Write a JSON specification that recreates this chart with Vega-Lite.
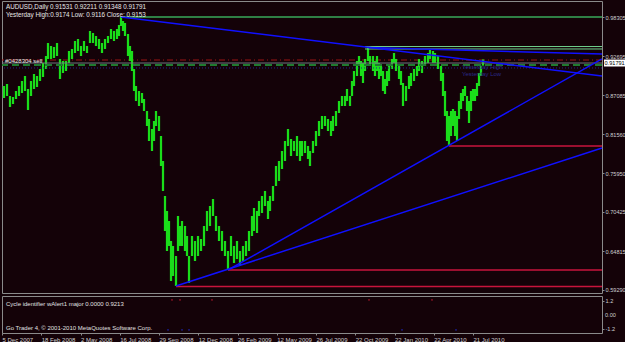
{
  "$schema": "https://vega.github.io/schema/vega-lite/v6.json",
  "background": "#140208",
  "padding": 0,
  "spacing": 1,
  "config": {
    "view": {"stroke": "#8a8a8a", "strokeWidth": 1},
    "axis": {"labelFont": "Liberation Sans", "labelFontSize": 5.6, "labelColor": "#d0d0d0", "tickColor": "#8a8a8a", "domainColor": "#8a8a8a", "grid": false, "title": null, "tickSize": 2, "labelPadding": 1, "labelOverlap": false, "labelBound": false, "labelFlush": false},
    "text": {"font": "Liberation Sans"}
  },
  "datasets": {
    "price": [
      {"b":2,"hi":0.8843,"lo":0.8671},{"b":5,"hi":0.8872,"lo":0.8700},{"b":8,"hi":0.8700,"lo":0.8543},{"b":11,"hi":0.8686,"lo":0.8585},{"b":14,"hi":0.8772,"lo":0.8657},{"b":17,"hi":0.8843,"lo":0.8700},{"b":20,"hi":0.8915,"lo":0.8743},{"b":23,"hi":0.8986,"lo":0.8772},{"b":26,"hi":0.8800,"lo":0.8500},{"b":29,"hi":0.8915,"lo":0.8700},{"b":32,"hi":0.9015,"lo":0.8800},{"b":35,"hi":0.8986,"lo":0.8829},{"b":38,"hi":0.9086,"lo":0.8915},{"b":41,"hi":0.9172,"lo":0.8972},{"b":44,"hi":0.9272,"lo":0.9086},{"b":46,"hi":0.9458,"lo":0.9230},{"b":49,"hi":0.9416,"lo":0.9230},{"b":52,"hi":0.9401,"lo":0.9244},{"b":55,"hi":0.9458,"lo":0.9272},{"b":58,"hi":0.9230,"lo":0.8943},{"b":61,"hi":0.9201,"lo":0.9029},{"b":64,"hi":0.9201,"lo":0.9058},{"b":67,"hi":0.9344,"lo":0.9172},{"b":70,"hi":0.9373,"lo":0.9230},{"b":73,"hi":0.9487,"lo":0.9315},{"b":76,"hi":0.9516,"lo":0.9344},{"b":79,"hi":0.9416,"lo":0.9272},{"b":82,"hi":0.9487,"lo":0.9344},{"b":85,"hi":0.9416,"lo":0.9315},{"b":88,"hi":0.9630,"lo":0.9458},{"b":91,"hi":0.9602,"lo":0.9458},{"b":94,"hi":0.9559,"lo":0.9416},{"b":97,"hi":0.9516,"lo":0.9373},{"b":100,"hi":0.9458,"lo":0.9315},{"b":103,"hi":0.9516,"lo":0.9373},{"b":106,"hi":0.9559,"lo":0.9458},{"b":109,"hi":0.9659,"lo":0.9516},{"b":112,"hi":0.9630,"lo":0.9487},{"b":115,"hi":0.9659,"lo":0.9516},{"b":117,"hi":0.9716,"lo":0.9559},{"b":119,"hi":0.9831,"lo":0.9702},{"b":121,"hi":0.9773,"lo":0.9630},{"b":123,"hi":0.9745,"lo":0.9559},{"b":126,"hi":0.9587,"lo":0.9272},{"b":128,"hi":0.9416,"lo":0.9201},{"b":130,"hi":0.9344,"lo":0.9058},{"b":132,"hi":0.9086,"lo":0.8772},{"b":134,"hi":0.8843,"lo":0.8628},{"b":137,"hi":0.8772,"lo":0.8557},{"b":140,"hi":0.8743,"lo":0.8600},{"b":142,"hi":0.8657,"lo":0.8485},{"b":145,"hi":0.8485,"lo":0.8271},{"b":147,"hi":0.8371,"lo":0.8056},{"b":150,"hi":0.8228,"lo":0.7913},{"b":152,"hi":0.8342,"lo":0.8056},{"b":154,"hi":0.8485,"lo":0.8271},{"b":157,"hi":0.8414,"lo":0.8199},{"b":159,"hi":0.8128,"lo":0.7698},{"b":161,"hi":0.7770,"lo":0.7341},{"b":163,"hi":0.7269,"lo":0.6768},{"b":165,"hi":0.7055,"lo":0.6482},{"b":167,"hi":0.6911,"lo":0.6554},{"b":169,"hi":0.6625,"lo":0.6053},{"b":171,"hi":0.6554,"lo":0.6124},{"b":174,"hi":0.6410,"lo":0.5981},{"b":176,"hi":0.6983,"lo":0.6482},{"b":178,"hi":0.6840,"lo":0.6554},{"b":180,"hi":0.6911,"lo":0.6554},{"b":183,"hi":0.6840,"lo":0.6482},{"b":185,"hi":0.6697,"lo":0.6410},{"b":187,"hi":0.6410,"lo":0.6024},{"b":190,"hi":0.6697,"lo":0.6410},{"b":193,"hi":0.6625,"lo":0.6339},{"b":196,"hi":0.6697,"lo":0.6410},{"b":199,"hi":0.6654,"lo":0.6482},{"b":202,"hi":0.6840,"lo":0.6554},{"b":205,"hi":0.7055,"lo":0.6768},{"b":208,"hi":0.7126,"lo":0.6840},{"b":211,"hi":0.7226,"lo":0.6983},{"b":214,"hi":0.6983,"lo":0.6768},{"b":217,"hi":0.6840,"lo":0.6625},{"b":220,"hi":0.6768,"lo":0.6482},{"b":223,"hi":0.6625,"lo":0.6410},{"b":226,"hi":0.6482,"lo":0.6224},{"b":229,"hi":0.6697,"lo":0.6410},{"b":232,"hi":0.6554,"lo":0.6310},{"b":235,"hi":0.6625,"lo":0.6367},{"b":238,"hi":0.6482,"lo":0.6267},{"b":241,"hi":0.6554,"lo":0.6339},{"b":244,"hi":0.6625,"lo":0.6410},{"b":247,"hi":0.6768,"lo":0.6482},{"b":250,"hi":0.6983,"lo":0.6697},{"b":252,"hi":0.7097,"lo":0.6768},{"b":255,"hi":0.7055,"lo":0.6740},{"b":257,"hi":0.7198,"lo":0.6983},{"b":260,"hi":0.7269,"lo":0.7026},{"b":263,"hi":0.7341,"lo":0.7126},{"b":266,"hi":0.7198,"lo":0.6940},{"b":268,"hi":0.7269,"lo":0.7055},{"b":271,"hi":0.7412,"lo":0.7198},{"b":274,"hi":0.7698,"lo":0.7412},{"b":277,"hi":0.7770,"lo":0.7484},{"b":280,"hi":0.7913,"lo":0.7655},{"b":283,"hi":0.8056,"lo":0.7770},{"b":286,"hi":0.8228,"lo":0.7985},{"b":289,"hi":0.8085,"lo":0.7841},{"b":292,"hi":0.8056,"lo":0.7913},{"b":295,"hi":0.8128,"lo":0.7841},{"b":298,"hi":0.8056,"lo":0.7770},{"b":300,"hi":0.8056,"lo":0.7841},{"b":303,"hi":0.8056,"lo":0.7884},{"b":306,"hi":0.7985,"lo":0.7799},{"b":308,"hi":0.7913,"lo":0.7698},{"b":311,"hi":0.8056,"lo":0.7884},{"b":314,"hi":0.8199,"lo":0.7985},{"b":317,"hi":0.8342,"lo":0.8128},{"b":320,"hi":0.8414,"lo":0.8228},{"b":323,"hi":0.8414,"lo":0.8271},{"b":326,"hi":0.8371,"lo":0.8199},{"b":329,"hi":0.8342,"lo":0.8128},{"b":331,"hi":0.8414,"lo":0.8199},{"b":334,"hi":0.8485,"lo":0.8271},{"b":337,"hi":0.8628,"lo":0.8457},{"b":340,"hi":0.8700,"lo":0.8557},{"b":343,"hi":0.8700,"lo":0.8557},{"b":345,"hi":0.8800,"lo":0.8628},{"b":348,"hi":0.8700,"lo":0.8557},{"b":350,"hi":0.8915,"lo":0.8700},{"b":352,"hi":0.9058,"lo":0.8843},{"b":355,"hi":0.9201,"lo":0.8986},{"b":357,"hi":0.9272,"lo":0.9129},{"b":359,"hi":0.9201,"lo":0.8986},{"b":361,"hi":0.9172,"lo":0.8886},{"b":363,"hi":0.9230,"lo":0.9058},{"b":366,"hi":0.9387,"lo":0.9201},{"b":368,"hi":0.9272,"lo":0.9129},{"b":371,"hi":0.9272,"lo":0.9058},{"b":373,"hi":0.9201,"lo":0.8986},{"b":375,"hi":0.9272,"lo":0.9058},{"b":377,"hi":0.9172,"lo":0.8943},{"b":379,"hi":0.9129,"lo":0.8986},{"b":381,"hi":0.9058,"lo":0.8772},{"b":383,"hi":0.8943,"lo":0.8729},{"b":385,"hi":0.9058,"lo":0.8843},{"b":387,"hi":0.9129,"lo":0.8915},{"b":390,"hi":0.9230,"lo":0.9086},{"b":392,"hi":0.9315,"lo":0.9172},{"b":394,"hi":0.9230,"lo":0.9058},{"b":397,"hi":0.9129,"lo":0.8943},{"b":399,"hi":0.9058,"lo":0.8857},{"b":401,"hi":0.8886,"lo":0.8557},{"b":404,"hi":0.8843,"lo":0.8628},{"b":407,"hi":0.8986,"lo":0.8800},{"b":409,"hi":0.9029,"lo":0.8843},{"b":412,"hi":0.9086,"lo":0.8915},{"b":415,"hi":0.9129,"lo":0.8986},{"b":417,"hi":0.9230,"lo":0.9058},{"b":420,"hi":0.9201,"lo":0.9029},{"b":423,"hi":0.9272,"lo":0.9129},{"b":426,"hi":0.9315,"lo":0.9172},{"b":428,"hi":0.9373,"lo":0.9230},{"b":431,"hi":0.9344,"lo":0.9172},{"b":433,"hi":0.9315,"lo":0.9172},{"b":436,"hi":0.9272,"lo":0.9086},{"b":439,"hi":0.9129,"lo":0.8915},{"b":441,"hi":0.9029,"lo":0.8700},{"b":443,"hi":0.8772,"lo":0.8414},{"b":445,"hi":0.8485,"lo":0.8056},{"b":447,"hi":0.8414,"lo":0.7985},{"b":449,"hi":0.8485,"lo":0.8128},{"b":451,"hi":0.8514,"lo":0.8271},{"b":453,"hi":0.8485,"lo":0.8128},{"b":455,"hi":0.8414,"lo":0.8056},{"b":457,"hi":0.8628,"lo":0.8371},{"b":459,"hi":0.8743,"lo":0.8514},{"b":461,"hi":0.8800,"lo":0.8628},{"b":463,"hi":0.8843,"lo":0.8700},{"b":465,"hi":0.8700,"lo":0.8485},{"b":467,"hi":0.8628,"lo":0.8314},{"b":469,"hi":0.8772,"lo":0.8485},{"b":471,"hi":0.8800,"lo":0.8628},{"b":473,"hi":0.8800,"lo":0.8628},{"b":475,"hi":0.8886,"lo":0.8700},{"b":477,"hi":0.9029,"lo":0.8843},{"b":479,"hi":0.9129,"lo":0.8986},{"b":481,"hi":0.9221,"lo":0.9135}
    ]
  },
  "vconcat": [
    {
      "width": 600,
      "height": 292,
      "layer": [
        {
          "data": {"values": [{"v": 0.9215}]},
          "mark": {"type": "rule", "color": "#9a1414", "strokeWidth": 1, "strokeDash": [6, 3, 1, 3]},
          "encoding": {
            "y": {"field": "v", "type": "quantitative", "scale": {"domain": [0.58809, 1.00595], "nice": false, "zero": false},
              "axis": {"orient": "right", "values": [0.98305, 0.955, 0.92695, 0.8989, 0.87085, 0.84365, 0.8156, 0.78755, 0.7595, 0.73145, 0.70425, 0.6762, 0.64815, 0.6201, 0.5929], "format": ".5f", "domain": false}}
          }
        },
        {
          "data": {"name": "price"},
          "mark": {"type": "rule", "color": "#0b8f0b", "strokeWidth": 2.4},
          "encoding": {
            "x": {"field": "b", "type": "quantitative", "scale": {"domain": [0, 600], "nice": false, "zero": false}, "axis": null},
            "y": {"field": "lo", "type": "quantitative"},
            "y2": {"field": "hi"}
          }
        },
        {
          "data": {"name": "price"},
          "mark": {"type": "rule", "color": "#22ff22", "strokeWidth": 1.4},
          "encoding": {
            "x": {"field": "b", "type": "quantitative"},
            "y": {"field": "lo", "type": "quantitative"},
            "y2": {"field": "hi"}
          }
        },
        {
          "data": {"values": [{"v": 0.9172}]},
          "mark": {"type": "rule", "color": "#6f7880", "strokeWidth": 1},
          "encoding": {"y": {"field": "v", "type": "quantitative"}}
        },
        {
          "data": {"values": [{"v": 0.9144}]},
          "mark": {"type": "rule", "color": "#1f7a30", "strokeWidth": 2, "strokeDash": [7, 4]},
          "encoding": {"y": {"field": "v", "type": "quantitative"}}
        },
        {
          "data": {"values": [{"v": 0.9101}]},
          "mark": {"type": "rule", "color": "#22228a", "strokeWidth": 1, "strokeDash": [1, 2]},
          "encoding": {"y": {"field": "v", "type": "quantitative"}}
        },
        {
          "data": {"values": [{"x1": 119, "x2": 600, "v": 0.9831}]},
          "mark": {"type": "rule", "color": "#2f7f45", "strokeWidth": 2},
          "encoding": {"x": {"field": "x1", "type": "quantitative"}, "x2": {"field": "x2"}, "y": {"field": "v", "type": "quantitative"}}
        },
        {
          "data": {"values": [{"x1": 363, "x2": 600, "v": 0.9408}, {"x1": 363, "x2": 600, "v": 0.9373}]},
          "mark": {"type": "rule", "color": "#6fd08c", "strokeWidth": 1},
          "encoding": {"x": {"field": "x1", "type": "quantitative"}, "x2": {"field": "x2"}, "y": {"field": "v", "type": "quantitative"}}
        },
        {
          "data": {"values": [{"x1": 447, "x2": 600, "v": 0.7985}, {"x1": 226, "x2": 600, "v": 0.621}, {"x1": 174, "x2": 600, "v": 0.5974}]},
          "mark": {"type": "rule", "color": "#c8143c", "strokeWidth": 1.5},
          "encoding": {"x": {"field": "x1", "type": "quantitative"}, "x2": {"field": "x2"}, "y": {"field": "v", "type": "quantitative"}}
        },
        {
          "data": {"values": [
            {"x1": 119, "v1": 0.9831, "x2": 600, "v2": 0.8986},
            {"x1": 366, "v1": 0.9394, "x2": 600, "v2": 0.9301},
            {"x1": 174, "v1": 0.5981, "x2": 600, "v2": 0.7956},
            {"x1": 226, "v1": 0.621, "x2": 600, "v2": 0.923}
          ]},
          "mark": {"type": "rule", "color": "#1010ff", "strokeWidth": 1.5},
          "encoding": {"x": {"field": "x1", "type": "quantitative"}, "x2": {"field": "x2"}, "y": {"field": "v1", "type": "quantitative"}, "y2": {"field": "v2"}}
        },
        {
          "data": {"values": [{}]},
          "mark": {"type": "text", "align": "left", "baseline": "top", "color": "#e8e8e8", "fontSize": 6.3},
          "encoding": {"x": {"datum": 4, "type": "quantitative"}, "y": {"datum": 1.0017, "type": "quantitative"}, "text": {"value": "AUDUSD,Daily  0.91531 0.92211 0.91348 0.91791"}}
        },
        {
          "data": {"values": [{}]},
          "mark": {"type": "text", "align": "left", "baseline": "top", "color": "#e8e8e8", "fontSize": 6.3},
          "encoding": {"x": {"datum": 4, "type": "quantitative"}, "y": {"datum": 0.9903, "type": "quantitative"}, "text": {"value": "Yesterday High:0.9174   Low: 0.9116   Close: 0.9153"}}
        },
        {
          "data": {"values": [{}]},
          "mark": {"type": "text", "align": "left", "baseline": "middle", "color": "#e8e8e8", "fontSize": 6},
          "encoding": {"x": {"datum": 3, "type": "quantitative"}, "y": {"datum": 0.9194, "type": "quantitative"}, "text": {"value": "#0428304 sell"}}
        },
        {
          "data": {"values": [{}]},
          "mark": {"type": "text", "align": "left", "baseline": "middle", "color": "#2a2a88", "fontSize": 6},
          "encoding": {"x": {"datum": 460, "type": "quantitative"}, "y": {"datum": 0.9115, "type": "quantitative"}, "text": {"value": "Yesterday High"}}
        },
        {
          "data": {"values": [{}]},
          "mark": {"type": "text", "align": "left", "baseline": "middle", "color": "#2a2a88", "fontSize": 6},
          "encoding": {"x": {"datum": 460, "type": "quantitative"}, "y": {"datum": 0.9022, "type": "quantitative"}, "text": {"value": "Yesterday Low"}}
        },
        {
          "data": {"values": [{}]},
          "mark": {"type": "rect", "color": "#ffffff"},
          "encoding": {"x": {"datum": 602, "type": "quantitative"}, "x2": {"datum": 624}, "y": {"datum": 0.9222, "type": "quantitative"}, "y2": {"datum": 0.9122}}
        },
        {
          "data": {"values": [{}]},
          "mark": {"type": "text", "align": "left", "baseline": "middle", "color": "#000000", "fontSize": 5.6},
          "encoding": {"x": {"datum": 602.5, "type": "quantitative"}, "y": {"datum": 0.9172, "type": "quantitative"}, "text": {"value": "0.91791"}}
        }
      ]
    },
    {
      "width": 600,
      "height": 37,
      "layer": [
        {
          "data": {"values": [
            {"b": 170, "s": 1.28, "k": "up"}, {"b": 178, "s": 1.28, "k": "up"}, {"b": 210, "s": 1.28, "k": "up"}, {"b": 367, "s": 1.28, "k": "up"}, {"b": 430, "s": 1.28, "k": "up"},
            {"b": 166, "s": -1.28, "k": "down"}, {"b": 180, "s": -1.28, "k": "down"}, {"b": 187, "s": -1.28, "k": "down"}, {"b": 400, "s": -1.28, "k": "down"}, {"b": 454, "s": -1.28, "k": "down"}
          ]},
          "mark": {"type": "square", "size": 3, "opacity": 1},
          "encoding": {
            "x": {"field": "b", "type": "quantitative", "scale": {"domain": [0, 600], "nice": false, "zero": false},
              "axis": {"orient": "bottom", "values": [0, 39.25, 78.5, 117.75, 157, 196.25, 235.5, 274.75, 314, 353.25, 392.5, 431.75, 471], "labelAlign": "left", "labelFontSize": 6, "labelExpr": "['5 Dec 2007','18 Feb 2008','2 May 2008','16 Jul 2008','29 Sep 2008','12 Dec 2008','26 Feb 2009','12 May 2009','26 Jul 2009','22 Oct 2009','22 Jan 2010','22 Apr 2010','21 Jul 2010'][round(datum.value/39.25)]", "domain": false}},
            "y": {"field": "s", "type": "quantitative", "scale": {"domain": [-1.55, 1.62], "nice": false, "zero": false},
              "axis": {"orient": "right", "values": [1.2, 0.001, -1.2], "labelExpr": "datum.value > 0.5 ? '1.2' : (datum.value < -0.5 ? '-1.2' : '')", "domain": false}},
            "color": {"field": "k", "type": "nominal", "scale": {"domain": ["up", "down"], "range": ["#7a1020", "#1a1a7a"]}, "legend": null}
          }
        },
        {
          "data": {"values": [{}]},
          "mark": {"type": "text", "align": "left", "baseline": "middle", "color": "#d0d0d0", "fontSize": 5.6},
          "encoding": {"x": {"datum": 603, "type": "quantitative"}, "y": {"datum": 0, "type": "quantitative"}, "text": {"value": "0.00"}}
        },
        {
          "data": {"values": [{}]},
          "mark": {"type": "text", "align": "left", "baseline": "middle", "color": "#e0e0e0", "fontSize": 6},
          "encoding": {"x": {"datum": 4, "type": "quantitative"}, "y": {"datum": 0.9, "type": "quantitative"}, "text": {"value": "Cycle identifier wAlert1 major 0.0000 0.9213"}}
        },
        {
          "data": {"values": [{}]},
          "mark": {"type": "text", "align": "left", "baseline": "middle", "color": "#e0e0e0", "fontSize": 6},
          "encoding": {"x": {"datum": 4, "type": "quantitative"}, "y": {"datum": -1.1, "type": "quantitative"}, "text": {"value": "Go Trader 4, © 2001-2010 MetaQuotes Software Corp."}}
        }
      ]
    }
  ]
}
